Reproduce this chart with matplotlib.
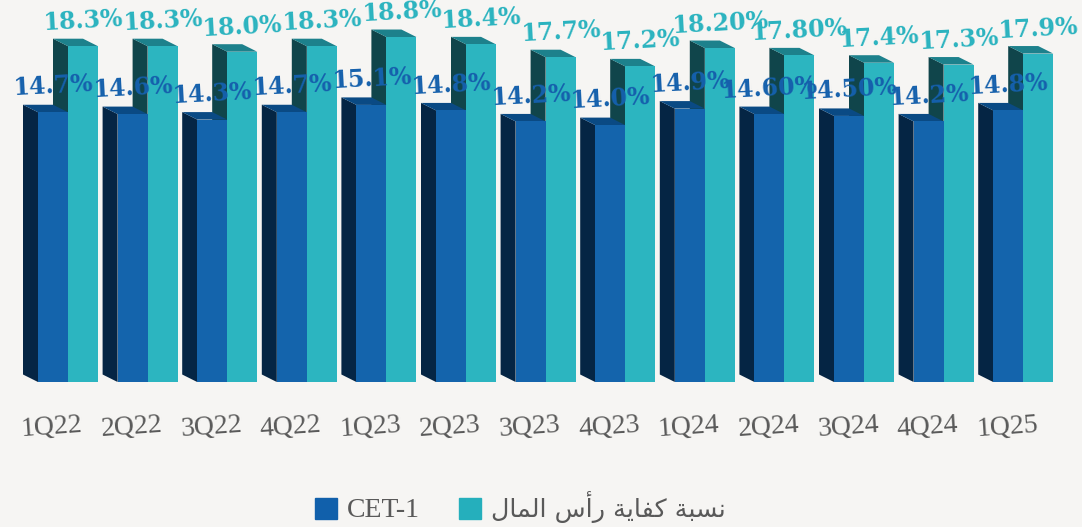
import matplotlib
matplotlib.use('Agg')
import matplotlib.pyplot as plt
from matplotlib.patches import Patch

quarters = ['1Q22', '2Q22', '3Q22', '4Q22', '1Q23', '2Q23', '3Q23', '4Q23', '1Q24', '2Q24', '3Q24', '4Q24', '1Q25']
cet1 = [14.7, 14.6, 14.3, 14.7, 15.1, 14.8, 14.2, 14.0, 14.9, 14.6, 14.5, 14.2, 14.8]
car = [18.3, 18.3, 18.0, 18.3, 18.8, 18.4, 17.7, 17.2, 18.2, 17.8, 17.4, 17.3, 17.9]
cet1_labels = ['14.7%', '14.6%', '14.3%', '14.7%', '15.1%', '14.8%', '14.2%', '14.0%', '14.9%', '14.60%', '14.50%', '14.2%', '14.8%']
car_labels = ['18.3%', '18.3%', '18.0%', '18.3%', '18.8%', '18.4%', '17.7%', '17.2%', '18.20%', '17.80%', '17.4%', '17.3%', '17.9%']

BG = '#f6f5f3'
W, H = 1082, 527
STEP = 79.6    # px per category
PER = 18.35    # px per percent
BASE = 382     # baseline, px from top
X0 = 68        # first category centre, px
BAR = 30 / STEP
DX = 15 / STEP
DY = 7.5 / PER

# matplotlib has no arabic shaping, so the joined glyphs are given in drawing order
car_name = '\ufee7\ufeb4\ufe92\ufe94 \ufedb\ufed4\ufe8e\ufef3\ufe94 \ufead\ufe83\ufeb1 \ufe8d\ufedf\ufee4\ufe8e\ufedd'[::-1]

fig = plt.figure(figsize=(W / 100, H / 100), dpi=100, facecolor=BG)
ax = fig.add_axes([0, 1 - BASE / H, 1, BASE / H])
ax.set_facecolor('none')
ax.set_xlim(-X0 / STEP, (W - X0) / STEP)
ax.set_ylim(0, BASE / PER)


def bars_3d(values, offset, front, side, top, z):
    for i, v in enumerate(values):
        left = i + offset - BAR / 2
        right = i + offset + BAR / 2
        ax.fill([left, left - DX, left - DX, left], [0, DY, v + DY, v], color=side, lw=0, zorder=z)
        ax.fill([left, left - DX, right - DX, right], [v, v + DY, v + DY, v], color=top, lw=0, zorder=z)
    ax.bar([i + offset for i in range(len(values))], values, BAR, color=front, lw=0, zorder=z + 0.5)


bars_3d(car, BAR / 2, '#2cb5c0', '#10454b', '#1d818c', 2)
bars_3d(cet1, -BAR / 2, '#1464ac', '#052544', '#0a4a84', 3)

for i, v in enumerate(car):
    ax.text(i + BAR / 2, v + 25 / PER, car_labels[i], color='#2ab3bf', family='DejaVu Serif', weight='bold',
            fontsize=17, rotation=3, ha='center', va='center', zorder=5, clip_on=False)
for i, v in enumerate(cet1):
    ax.text(i - BAR / 2, v + 26 / PER, cet1_labels[i], color='#1560ac', family='DejaVu Serif', weight='bold',
            fontsize=17, rotation=3, ha='center', va='center', zorder=6, clip_on=False)

ax.set_xticks([i - 0.2 for i in range(len(quarters))])
ax.set_xticklabels(quarters, family='Liberation Serif', fontsize=20, color='#595959', rotation=4)
ax.tick_params(axis='x', length=0, pad=22)
ax.set_yticks([])
for s in ax.spines.values():
    s.set_visible(False)

leg = fig.legend(handles=[Patch(color='#1160ab'), Patch(color='#25afbc')], labels=['CET-1', car_name],
                 ncol=2, loc='center', bbox_to_anchor=(520.5 / W, 1 - 507 / H), frameon=False, fontsize=18.3,
                 handlelength=0.85, handleheight=0.9, handletextpad=0.4, columnspacing=1.55, labelcolor='#595959')
leg.get_texts()[0].set_family('Liberation Serif')
leg.get_texts()[0].set_fontsize(20)
leg.get_texts()[1].set_family('DejaVu Sans')

fig.savefig('out.png', dpi=100, facecolor=BG)
